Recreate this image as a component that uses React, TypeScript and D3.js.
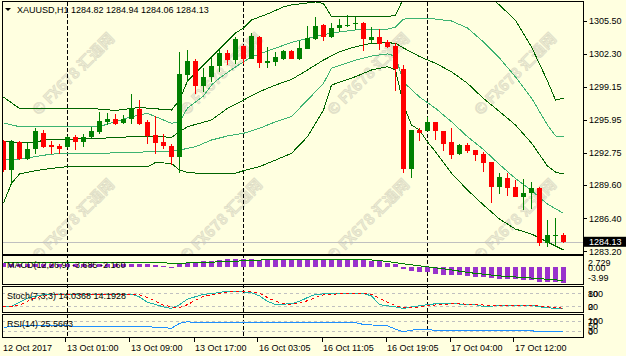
import React from 'react';
import * as d3 from 'd3';

const symbolTitle = 'XAUUSD,H1';
const lastQuote = ['1284.82', '1284.94', '1284.06', '1284.13'];

const opens = [1293.88,1291.08,1293.76,1292.14,1293.11,1294.63,1293.50,1293.43,1293.27,1294.30,1293.82,1294.30,1294.73,1295.75,1296.01,1295.60,1296.01,1296.98,1295.69,1294.46,1293.76,1293.43,1292.36,1300.27,1301.63,1299.24,1300.05,1301.14,1302.43,1301.72,1303.11,1301.85,1303.98,1301.46,1301.56,1301.82,1302.62,1301.82,1302.82,1303.76,1305.08,1303.92,1304.87,1305.02,1305.18,1305.34,1303.66,1303.95,1303.42,1303.08,1300.85,1291.17,1294.95,1294.88,1295.72,1294.87,1293.79,1292.62,1293.50,1293.01,1292.62,1291.88,1289.46,1290.33,1289.46,1288.49,1288.82,1289.36,1284.04,1284.72,1284.82];
const highs = [1294.00,1293.98,1293.88,1293.66,1295.17,1294.95,1293.88,1293.56,1294.37,1294.46,1294.53,1295.27,1296.66,1296.56,1296.50,1296.40,1298.40,1297.85,1295.92,1296.33,1294.53,1293.56,1302.47,1302.69,1301.79,1300.92,1301.89,1302.69,1302.69,1303.98,1303.20,1304.37,1304.05,1303.01,1302.53,1302.69,1302.69,1303.59,1304.99,1305.92,1305.21,1305.28,1305.65,1306.08,1305.86,1305.40,1304.92,1304.68,1303.69,1303.34,1301.24,1294.95,1295.17,1296.24,1295.72,1294.90,1295.11,1293.59,1293.66,1293.01,1292.82,1291.88,1290.79,1290.76,1290.11,1290.20,1289.94,1289.43,1286.24,1286.40,1284.94];
const lows = [1290.88,1289.62,1292.04,1292.04,1292.62,1293.21,1292.62,1292.62,1293.21,1293.01,1293.33,1294.20,1294.53,1295.43,1295.43,1295.53,1295.50,1295.43,1293.56,1292.60,1293.08,1291.56,1290.81,1299.62,1298.40,1298.66,1299.62,1300.59,1301.24,1301.34,1301.34,1301.79,1300.98,1300.92,1301.17,1301.72,1301.79,1301.72,1302.76,1303.66,1303.59,1303.83,1304.41,1304.95,1304.60,1302.62,1303.27,1302.72,1302.86,1298.72,1290.81,1290.33,1293.91,1294.88,1293.98,1292.94,1292.17,1292.53,1292.69,1291.98,1290.91,1287.91,1288.78,1288.56,1288.49,1287.20,1287.27,1283.77,1283.59,1283.65,1284.06];
const closes = [1291.08,1293.76,1292.14,1293.11,1294.85,1293.33,1293.33,1293.08,1294.24,1293.82,1294.24,1294.85,1295.82,1296.01,1295.53,1296.01,1297.05,1295.50,1294.40,1293.72,1293.43,1292.36,1300.37,1301.63,1299.24,1300.05,1301.14,1302.43,1301.72,1303.73,1301.85,1304.05,1301.46,1301.63,1301.99,1302.62,1301.82,1302.86,1303.88,1305.02,1303.98,1304.85,1305.11,1305.11,1305.34,1303.73,1303.95,1303.24,1303.01,1300.85,1291.17,1294.95,1294.69,1295.75,1294.90,1293.62,1292.56,1293.50,1292.94,1292.53,1291.78,1289.46,1290.43,1289.36,1288.49,1288.85,1289.36,1284.04,1284.78,1284.78,1284.13];

// Bollinger-style bands: [bar, price]
const bbUpperOuter: [number, number][] = [[0,1298.14],[2,1297.03],[11,1297.03],[14,1296.84],[17,1297.13],[21,1296.88],[22,1297.85],[23,1299.69],[25,1301.24],[27,1302.79],[29,1304.34],[30,1304.82],[31,1305.60],[33,1306.18],[35,1306.86],[36,1307.05],[39,1307.34],[40,1307.19],[41,1305.94],[48,1305.94],[49,1306.03],[50,1307.73],[51,1309.08],[53,1309.47],[56,1310.44],[58,1309.86],[60,1308.31],[62,1307.05],[64,1305.55],[66,1302.98],[68,1299.69],[69,1297.85],[70,1298.02]];
const bbUpperInner: [number, number][] = [[0,1295.63],[2,1295.27],[12,1295.27],[13,1295.53],[16,1296.24],[18,1296.56],[21,1295.60],[22,1295.75],[23,1297.08],[25,1298.24],[26,1299.30],[27,1299.98],[29,1301.05],[31,1302.02],[33,1302.60],[36,1303.42],[38,1303.81],[41,1304.34],[44,1304.63],[48,1304.70],[49,1304.92],[50,1305.69],[53,1305.74],[54,1305.69],[56,1305.50],[58,1304.82],[60,1303.47],[62,1301.92],[64,1300.08],[66,1298.05],[68,1295.43],[69,1294.37],[70,1294.30]];
const bbMiddle: [number, number][] = [[0,1293.82],[4,1293.72],[5,1293.98],[8,1294.05],[12,1294.14],[16,1294.30],[18,1294.37],[21,1294.24],[22,1294.78],[23,1295.27],[26,1295.92],[28,1297.05],[30,1297.85],[32,1298.66],[34,1299.30],[36,1299.84],[38,1300.76],[40,1301.72],[42,1302.53],[44,1303.01],[46,1303.34],[48,1303.40],[49,1303.34],[50,1302.89],[52,1302.06],[54,1301.41],[56,1300.59],[58,1299.47],[60,1298.00],[62,1296.74],[64,1295.43],[66,1293.69],[68,1291.46],[69,1290.88],[70,1290.69]];
const bbLowerInner: [number, number][] = [[0,1292.04],[2,1292.14],[6,1292.62],[10,1292.69],[16,1292.75],[18,1292.85],[20,1292.85],[22,1293.01],[24,1293.33],[26,1293.98],[28,1294.37],[30,1294.63],[32,1295.11],[34,1295.75],[36,1296.26],[38,1297.85],[40,1299.47],[41,1300.92],[44,1301.72],[46,1302.11],[48,1302.31],[49,1302.11],[50,1299.59],[52,1298.14],[54,1297.05],[56,1295.75],[58,1294.30],[60,1293.06],[62,1291.61],[64,1290.25],[66,1289.09],[68,1287.78],[70,1286.88]];
const bbLowerOuter: [number, number][] = [[0,1287.88],[1,1289.79],[2,1290.69],[4,1291.01],[6,1291.24],[8,1291.40],[18,1291.40],[19,1291.80],[21,1291.72],[22,1291.08],[23,1290.83],[26,1290.69],[29,1290.76],[30,1291.01],[32,1291.40],[34,1292.04],[36,1292.69],[38,1294.30],[40,1296.88],[41,1299.30],[44,1300.11],[46,1300.76],[48,1301.08],[49,1300.76],[50,1297.37],[51,1295.43],[52,1294.95],[53,1293.79],[54,1292.85],[56,1290.76],[58,1289.14],[60,1287.69],[62,1286.33],[64,1285.36],[66,1284.88],[68,1284.11],[69,1283.72],[70,1283.33]];

const priceTicks = [1305.50, 1302.30, 1299.15, 1295.95, 1292.75, 1289.60, 1286.40, 1283.20];
const timeTickBars = [8, 16, 24, 32, 40, 48, 56, 64];
const timeTickLabels = ['13 Oct 01:00', '13 Oct 09:00', '13 Oct 17:00', '16 Oct 03:05', '16 Oct 11:05', '16 Oct 19:05', '17 Oct 04:00', '17 Oct 12:00'];
const firstTimeLabel = '12 Oct 2017';
const separatorBars = [8, 30, 53];

const macdMain = [0.9,0.85,0.85,0.8,0.85,0.85,0.8,0.75,0.75,0.7,0.7,0.7,0.8,0.85,0.85,0.85,0.85,0.8,0.7,0.55,0.3,0.05,0.7,1.1,1.15,1.35,1.5,1.8,1.95,2.0,2.0,2.0,1.8,1.8,1.6,1.6,1.6,1.6,1.65,1.7,1.7,1.7,1.7,1.7,1.7,1.6,1.55,1.35,1.1,0.8,-0.3,-0.75,-1.1,-1.2,-1.5,-1.75,-1.9,-1.9,-2.1,-2.3,-2.3,-2.5,-2.7,-2.7,-2.75,-2.9,-3.05,-3.3,-3.45,-3.5,-3.685];
const macdSignal: [number, number][] = [[0,1.0],[20,1.0],[22,0.95],[25,1.1],[30,1.5],[33,1.75],[38,1.7],[46,1.7],[48,1.35],[50,0.8],[53,0.1],[56,-0.6],[58,-1.2],[62,-2.0],[66,-2.5],[70,-3.07]];
const macdScale = [-3.99, 2.729];
const macdLabels = ['2.729', '0.00', '-3.99'];

const stochMain: [number, number][] = [[0,20],[1,23],[2,41],[3,60],[5,75],[16,77],[17,65],[18,41],[20,20],[21,13],[22,30],[23,55],[25,77],[26,80],[28,91],[29,91],[31,84],[32,70],[33,45],[34,31],[36,34],[37,45],[38,62],[39,77],[41,80],[45,80],[46,70],[47,30],[49,20],[50,13],[51,20],[53,30],[54,34],[56,34],[59,31],[60,20],[62,27],[66,27],[67,20],[69,13],[70,14]];
const stochSignal: [number, number][] = [[0,20],[1,23],[2,28],[3,45],[4,62],[6,74],[16,77],[17,74],[18,62],[19,45],[20,28],[21,20],[22,17],[23,30],[24,50],[25,68],[27,82],[29,91],[30,91],[31,88],[32,82],[33,62],[34,45],[35,34],[36,31],[37,37],[38,48],[39,62],[40,75],[41,78],[45,80],[46,77],[47,60],[48,40],[49,25],[50,18],[51,15],[52,20],[53,26],[55,31],[56,34],[59,32],[60,28],[61,24],[62,24],[66,27],[67,25],[68,20],[70,14]];
const stochLevels = [80, 20];

const rsiLine: [number, number][] = [[0,46],[2,51],[4,55],[9,51],[17,51],[19,46],[21,42],[22,63],[23,70],[24,66],[37,66],[44,66],[45,58],[48,52],[49,38],[50,27],[51,34],[53,37],[54,32],[58,34],[66,31],[67,27],[70,26]];
const rsiLevels = [70, 30];

const watermarkText = '© FX678 汇通网';
const watermarkCols = [74, 222, 369, 516];
const watermarkRows = [75, 221];

const W = 626;
const H = 356;
const FONT = "'Liberation Sans', Arial, sans-serif";
const BG = '#FFFFE0';
const UP = '#008000';
const DOWN = '#FF0000';

const PLOT_L = 2;
const PLOT_R = 583;

export default function App() {
  const x = d3.scaleLinear().domain([0, 70]).range([3.5, 563.5]);
  const yP = d3.scaleLinear().domain([1283.2, 1305.5]).range([251.4, 21]);
  const yM = d3.scaleLinear().domain(macdScale).range([284.5, 255.5]);
  const yS = d3.scaleLinear().domain([0, 100]).range([311.3, 289.2]);
  const yR = d3.scaleLinear().domain([0, 100]).range([338, 314.7]);

  const lineP = d3.line<[number, number]>().x(d => x(d[0])).y(d => yP(d[1]));
  const lineM = d3.line<[number, number]>().x(d => x(d[0])).y(d => yM(d[1]));
  const lineS = d3.line<[number, number]>().x(d => x(d[0])).y(d => yS(d[1]));
  const lineR = d3.line<[number, number]>().x(d => x(d[0])).y(d => yR(d[1]));

  const lastClose = closes[closes.length - 1];

  const panels = [
    { top: 1.5, bottom: 254.5 },
    { top: 255.5, bottom: 284.5 },
    { top: 286.5, bottom: 312.5 },
    { top: 314.5, bottom: 337.5 },
  ];

  return (
    <svg width={W} height={H} style={{ position: 'absolute', left: 0, top: 0, background: BG }} fontFamily={FONT}>
      <defs>
        <clipPath id="mainClip"><rect x={PLOT_L} y={2} width={PLOT_R - PLOT_L} height={252} /></clipPath>
        <clipPath id="macdClip"><rect x={PLOT_L} y={256} width={PLOT_R - PLOT_L} height={28} /></clipPath>
      </defs>
      <rect x={0} y={0} width={W} height={H} fill={BG} />

      {/* watermark */}
      <g clipPath="url(#mainClip)">
        {watermarkRows.map(r => watermarkCols.map(c => (
          <text key={'wm' + r + '_' + c} x={c} y={r} transform={`rotate(-45 ${c} ${r})`} textAnchor="middle" dominantBaseline="middle"
            fontSize={15} fontWeight="bold" fontFamily="'Noto Sans CJK SC', 'Liberation Sans', sans-serif"
            fill="#ECEBD3" stroke="#DCDBC4" strokeWidth={0.6}>
            {watermarkText}
          </text>
        )))}
      </g>

      {/* period separators */}
      {separatorBars.map(b => (
        <line key={'sep' + b} x1={x(b)} x2={x(b)} y1={2} y2={337} stroke="#000" strokeDasharray="4,2" shapeRendering="crispEdges" />
      ))}

      {/* current price line */}
      <line x1={PLOT_L} x2={PLOT_R} y1={Math.round(yP(lastClose)) + 0.5} y2={Math.round(yP(lastClose)) + 0.5} stroke="#C0C0C0" shapeRendering="crispEdges" />

      <g clipPath="url(#mainClip)" fill="none" shapeRendering="crispEdges">
        <path d={lineP(bbUpperOuter) || ''} stroke="#006400" />
        <path d={lineP(bbMiddle) || ''} stroke="#006400" />
        <path d={lineP(bbLowerOuter) || ''} stroke="#006400" />
        <path d={lineP(bbUpperInner) || ''} stroke="#3CB371" />
        <path d={lineP(bbLowerInner) || ''} stroke="#3CB371" />
      </g>

      <g clipPath="url(#mainClip)" shapeRendering="crispEdges">
        {closes.map((c, i) => {
          const o = opens[i];
          const col = c >= o ? UP : DOWN;
          const cx = x(i);
          const top = yP(Math.max(o, c));
          const bot = yP(Math.min(o, c));
          return (
            <g key={'c' + i}>
              <line x1={cx} x2={cx} y1={yP(highs[i])} y2={yP(lows[i])} stroke={col} />
              <rect x={cx - 2.5} y={top} width={5} height={Math.max(1, bot - top)} fill={col} />
            </g>
          );
        })}
      </g>

      {/* header */}
      <path d="M5,8 L11,8 L8,11 Z" fill="#000" />
      <text x={17} y={12.5} fontSize={9} fill="#000">
        {symbolTitle + '  ' + lastQuote.join(' ')}
      </text>

      {/* MACD */}
      <g clipPath="url(#macdClip)" shapeRendering="crispEdges">
        {macdMain.map((v, i) => {
          const y0 = yM(0);
          const y1 = yM(v);
          return <rect key={'m' + i} x={x(i) - 2.5} y={Math.min(y0, y1)} width={5} height={Math.max(1, Math.abs(y1 - y0))} fill="#9932CC" />;
        })}
        <path d={lineM(macdSignal) || ''} fill="none" stroke="#008000" />
      </g>
      <text x={7} y={268} fontSize={9} fill="#000">MACD(12,26,9) -3.685 -2.160</text>

      {/* Stochastic */}
      <g shapeRendering="crispEdges" fill="none">
        {stochLevels.map(l => (
          <line key={'sl' + l} x1={PLOT_L} x2={PLOT_R} y1={yS(l)} y2={yS(l)} stroke="#C0C0C0" strokeDasharray="3,3" />
        ))}
        <path d={lineS(stochMain) || ''} stroke="#20B2AA" />
        <path d={lineS(stochSignal) || ''} stroke="#FF0000" strokeDasharray="3,3" />
      </g>
      <text x={7} y={298.5} fontSize={9} fill="#000">Stoch(7,3,3) 14.0368 14.1928</text>

      {/* RSI */}
      <g shapeRendering="crispEdges" fill="none">
        {rsiLevels.map(l => (
          <line key={'rl' + l} x1={PLOT_L} x2={PLOT_R} y1={yR(l)} y2={yR(l)} stroke="#C0C0C0" strokeDasharray="3,3" />
        ))}
        <path d={lineR(rsiLine) || ''} stroke="#1E90FF" />
      </g>
      <text x={7} y={326.5} fontSize={9} fill="#000">RSI(14) 25.5663</text>

      {/* panel frames */}
      {panels.map((p, i) => (
        <rect key={'f' + i} x={PLOT_L + 0.5} y={p.top} width={PLOT_R - PLOT_L} height={p.bottom - p.top} fill="none" stroke="#000" shapeRendering="crispEdges" />
      ))}

      {/* price axis */}
      {priceTicks.map(t => (
        <g key={'pt' + t}>
          <line x1={PLOT_R} x2={PLOT_R + 4} y1={Math.round(yP(t)) + 0.5} y2={Math.round(yP(t)) + 0.5} stroke="#000" shapeRendering="crispEdges" />
          <text x={PLOT_R + 6} y={yP(t) + 3.2} fontSize={9} fill="#000">{t.toFixed(2)}</text>
        </g>
      ))}
      <rect x={PLOT_R + 1} y={yP(lastClose) - 5} width={W - PLOT_R - 1} height={10} fill="#000" />
      <text x={PLOT_R + 6} y={yP(lastClose) + 3.2} fontSize={9} fill="#FFF">{lastClose.toFixed(2)}</text>

      {/* sub-panel labels */}
      <text x={PLOT_R + 5} y={266} fontSize={9} fill="#000">{macdLabels[0]}</text>
      <text x={PLOT_R + 5} y={271} fontSize={9} fill="#000">{macdLabels[1]}</text>
      <text x={PLOT_R + 5} y={280.5} fontSize={9} fill="#000">{macdLabels[2]}</text>
      <text x={PLOT_R + 5} y={yS(80) + 3.2} fontSize={9} fill="#000">100</text>
      <text x={PLOT_R + 5} y={yS(80) + 3.5} fontSize={9} fill="#000">80</text>
      <text x={PLOT_R + 5} y={yS(20) + 3.2} fontSize={9} fill="#000">20</text>
      <text x={PLOT_R + 5} y={yS(20) + 3.5} fontSize={9} fill="#000">0</text>
      <text x={PLOT_R + 5} y={yR(70) + 2.5} fontSize={9} fill="#000">100</text>
      <text x={PLOT_R + 5} y={yR(70) + 3} fontSize={9} fill="#000">70</text>
      <text x={PLOT_R + 5} y={yR(50) + 3} fontSize={9} fill="#000">50</text>
      <text x={PLOT_R + 5} y={yR(30) + 3} fontSize={9} fill="#000">30</text>
      <text x={PLOT_R + 5} y={yR(30) + 3.5} fontSize={9} fill="#000">0</text>

      {/* time axis */}
      <text x={3} y={351} fontSize={9} fill="#000">{firstTimeLabel}</text>
      {timeTickBars.map((b, i) => (
        <g key={'tt' + b}>
          <line x1={Math.round(x(b)) - 1.5} x2={Math.round(x(b)) - 1.5} y1={337} y2={342} stroke="#000" shapeRendering="crispEdges" />
          <text x={x(b) - 0.5} y={351} fontSize={9} fill="#000">{timeTickLabels[i]}</text>
        </g>
      ))}
    </svg>
  );
}
